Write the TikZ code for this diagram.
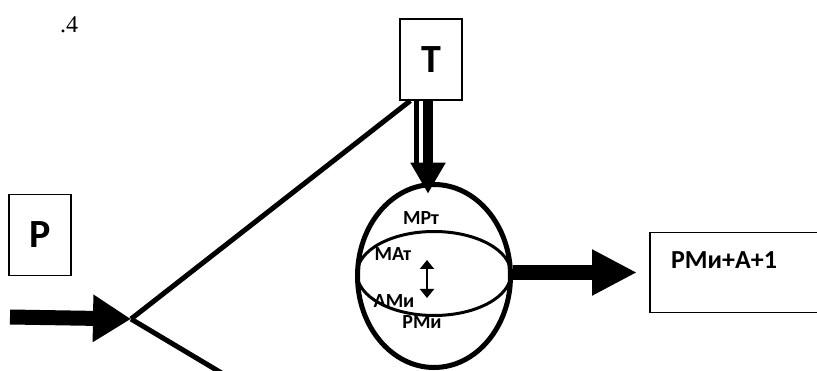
\documentclass[tikz,border=0pt]{standalone}
\usepackage{fontspec}
\setmainfont{Carlito}
\newfontfamily\numfont{Liberation Serif}
\usetikzlibrary{shapes.geometric, arrows.meta, calc}

\begin{document}
\begin{tikzpicture}[x=1pt, y=-1pt,
    every node/.style={font=\bfseries, inner sep=0pt}]

    \tikzstyle{letterbox}=[rectangle, draw, line width=1.5pt, minimum width=62pt, minimum height=81pt, font=\fontsize{40}{40}\selectfont\bfseries]
    \tikzstyle{bigarrow}=[line width=15pt, -{Triangle[length=38pt,width=45pt]}]
    \tikzstyle{ballnote}=[font=\fontsize{20}{20}\selectfont\bfseries]

    \useasboundingbox (0,0) rectangle (817,371);
    \clip (0,0) rectangle (817,371);

    \node[font=\numfont\fontsize{24}{24}\selectfont] (num) at (69,25) {.4};

    \node[letterbox] (T) at (431,59.5) {Т};
    \node[letterbox] (P) at (40,235) {Р};
    \node[rectangle, draw, line width=1.5pt, minimum width=190pt, minimum height=80pt, anchor=west] (out) at (649,272.5) {};
    \node[font=\fontsize{26}{26}\selectfont\bfseries] (outtext) at (724,260) {РМи+А+1};

    \node[ellipse, draw, line width=5pt, minimum width=153pt, minimum height=183pt] (ball) at (434,276) {};
    \draw[line width=3pt] (434,273.5) ellipse [x radius=77, y radius=42];

    \node[ballnote] (mrt) at (421,218.5) {МРт};
    \node[ballnote] (mat) at (393,254) {МАт};
    \node[ballnote] (ami) at (394,301) {АМи};
    \node[ballnote] (rmi) at (422,322) {РМи};
    \draw[line width=2pt, {Triangle[length=9pt,width=14pt]}-{Triangle[length=9pt,width=14pt]}] ($(ball.center)+(-7,-16)$) -- ($(ball.center)+(-7,22)$);

    \coordinate (in) at (10,317);
    \coordinate (J) at (131,319);
    \coordinate (low) at (240,384);
    \draw[bigarrow] (in) -- (J);
    \draw[line width=5pt] (J) -- ($(T.south west)+(11,0)$);
    \draw[line width=5pt] (J) -- (low);

    \draw[line width=10pt, -{Triangle[length=31pt,width=33pt]}] ($(T.south)+(-3,0)$) -- ($(T.south)+(-3,93)$);
    \draw[line width=5pt] ($(T.south)+(-14.5,0)$) -- ++(0,63);

    \draw[line width=15pt, -{Triangle[length=45pt,width=43pt]}] (ball.east |- out.west) -- ($(out.west)+(-12,0)$);

    \end{tikzpicture}
\end{document}
